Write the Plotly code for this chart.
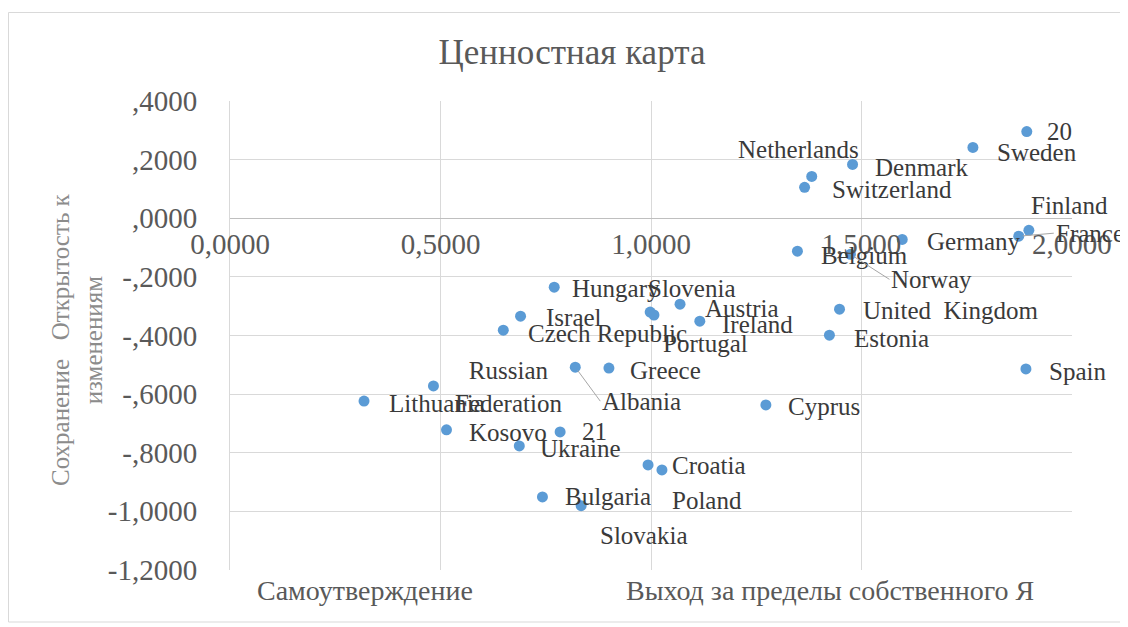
import plotly.graph_objects as go

# ---- data ----
countries = ["20", "Sweden", "Denmark", "Netherlands", "Switzerland", "Finland", "France",
             "Germany", "Belgium", "Norway", "United  Kingdom", "Estonia", "Spain", "Cyprus",
             "Hungary", "Slovenia", "Portugal", "Austria", "Ireland", "Israel", "Czech Republic",
             "Russian<br>Federation", "Albania", "Greece", "Lithuania", "Kosovo", "21", "Ukraine",
             "Croatia", "Poland", "Bulgaria", "Slovakia"]
x_vals = [1.893, 1.765, 1.479, 1.382, 1.365, 1.898, 1.874,
          1.597, 1.348, 1.474, 1.448, 1.424, 1.891, 1.273,
          0.770, 0.998, 1.007, 1.069, 1.116, 0.690, 0.649,
          0.483, 0.820, 0.900, 0.318, 0.514, 0.784, 0.687,
          1.026, 0.993, 0.742, 0.834]
y_vals = [0.296, 0.242, 0.184, 0.143, 0.106, -0.041, -0.061,
          -0.072, -0.112, -0.123, -0.310, -0.399, -0.514, -0.637,
          -0.235, -0.320, -0.330, -0.293, -0.351, -0.334, -0.382,
          -0.572, -0.508, -0.511, -0.624, -0.722, -0.729, -0.777,
          -0.859, -0.842, -0.951, -0.981]

x_tickvals = [0, 0.5, 1.0, 1.5, 2.0]
x_ticktext = ["0,0000", "0,5000", "1,0000", "1,5000", "2,0000"]
y_tickvals = [0.4, 0.2, 0.0, -0.2, -0.4, -0.6, -0.8, -1.0, -1.2]
y_ticktext = [",4000", ",2000", ",0000", "-,2000", "-,4000", "-,6000", "-,8000", "-1,0000", "-1,2000"]

title_text = "Ценностная карта"
y_title = "Сохранение   Открытость к<br>изменениям"
x_title_left = "Самоутверждение"
x_title_right = "Выход за пределы собственного Я"

# ---- label placement (pixel offsets of label's left edge from the point) ----
label_offsets = {
    "20": (18, 0), "Sweden": (22, 5), "Denmark": (20, 3), "Netherlands": (-76, -27),
    "Switzerland": (25, 2), "Finland": (0, -25), "Germany": (23, 2), "Belgium": (22, 4),
    "United  Kingdom": (21, 1), "Estonia": (23, 3), "Spain": (21, 3), "Cyprus": (20, 2),
    "Hungary": (16, 1), "Slovenia": (-4, -24), "Portugal": (7, 29), "Austria": (23, 4),
    "Ireland": (20, 3), "Israel": (23, 1), "Czech Republic": (23, 3),
    "Russian<br>Federation": (20, 1), "Greece": (19, 2), "Lithuania": (23, 2),
    "Kosovo": (20, 3), "21": (20, 0), "Ukraine": (19, 3), "Croatia": (8, -4),
    "Poland": (22, 36), "Bulgaria": (21, 0), "Slovakia": (17, 30),
}
leader_offsets = {"France": (35, -3), "Norway": (39, 25), "Albania": (25, 34)}

FONT = "'Liberation Serif', 'Times New Roman', Times, serif"
LABEL_COLOR = "#3A3A3A"
TICK_COLOR = "#595959"
GRID = "#D9D9D9"

# page offset: the html body has an 8px margin
W, H = 1120, 619
L, R, T, B = 222, 56, 93, 57
PW, PH = W - L - R, H - T - B


def px_x(p):
    """page pixel x -> paper fraction"""
    return (p - 8 - L) / PW


def px_y(p):
    """page pixel y -> paper fraction"""
    return (H - B - (p - 8)) / PH


fig = go.Figure()
fig.add_trace(go.Scatter(
    x=x_vals, y=y_vals, mode="markers",
    marker=dict(color="#5B9BD5", size=11),
    hoverinfo="text", text=countries, showlegend=False,
))

annotations = []
for name, xv, yv in zip(countries, x_vals, y_vals):
    if name in leader_offsets:
        dx, dy = leader_offsets[name]
        annotations.append(dict(
            x=xv, y=yv, xref="x", yref="y", text=name, showarrow=True,
            ax=dx, ay=dy, xanchor="left", yanchor="middle",
            arrowhead=0, arrowwidth=1, arrowcolor="#A6A6A6", standoff=4,
            font=dict(family=FONT, size=25, color=LABEL_COLOR),
        ))
    else:
        dx, dy = label_offsets.get(name, (20, 0))
        annotations.append(dict(
            x=xv, y=yv, xref="x", yref="y", text=name, showarrow=False,
            xanchor="left", yanchor="middle", xshift=dx, yshift=-dy,
            align="center",
            font=dict(family=FONT, size=25, color=LABEL_COLOR),
        ))

annotations += [
    dict(text=y_title, xref="paper", yref="paper", x=px_x(77), y=px_y(340), showarrow=False,
         textangle=-90, xanchor="center", yanchor="middle", align="center",
         font=dict(family=FONT, size=25, color="#8C8C8C")),
    dict(text=x_title_left, xref="paper", yref="paper", x=px_x(365), y=px_y(590), showarrow=False,
         xanchor="center", yanchor="middle",
         font=dict(family=FONT, size=28, color=TICK_COLOR)),
    dict(text=x_title_right, xref="paper", yref="paper", x=px_x(830), y=px_y(590), showarrow=False,
         xanchor="center", yanchor="middle",
         font=dict(family=FONT, size=28, color=TICK_COLOR)),
]

fig.update_layout(
    width=W, height=H,
    margin=dict(l=L, r=R, t=T, b=B, autoexpand=False),
    paper_bgcolor="white", plot_bgcolor="white",
    title=dict(text=title_text, x=(572 - 8) / W, y=1 - (52 - 8) / H,
               xanchor="center", yanchor="middle",
               font=dict(family=FONT, size=35, color=TICK_COLOR)),
    xaxis=dict(range=[-0.0005, 2.0005], tickvals=x_tickvals, ticktext=x_ticktext,
               showgrid=True, gridcolor=GRID, gridwidth=1, zeroline=False,
               showline=True, linecolor="#BFBFBF", anchor="free", position=0.75,
               automargin=False,
               tickfont=dict(family=FONT, size=29, color=TICK_COLOR), ticks=""),
    yaxis=dict(range=[-1.2005, 0.4005], tickvals=y_tickvals, ticktext=y_ticktext,
               showgrid=True, gridcolor=GRID, gridwidth=1, zeroline=False,
               showline=True, linecolor=GRID, domain=[0, 1],
               ticklabelstandoff=26, automargin=False,
               tickfont=dict(family=FONT, size=29, color=TICK_COLOR), ticks=""),
    annotations=annotations,
    shapes=[dict(type="rect", xref="paper", yref="paper",
                 x0=px_x(8.5), x1=1.2, y0=px_y(622), y1=px_y(12.5),
                 line=dict(color="#D9D9D9", width=1), fillcolor="rgba(0,0,0,0)", layer="below")],
)

fig.write_html("out.html")
